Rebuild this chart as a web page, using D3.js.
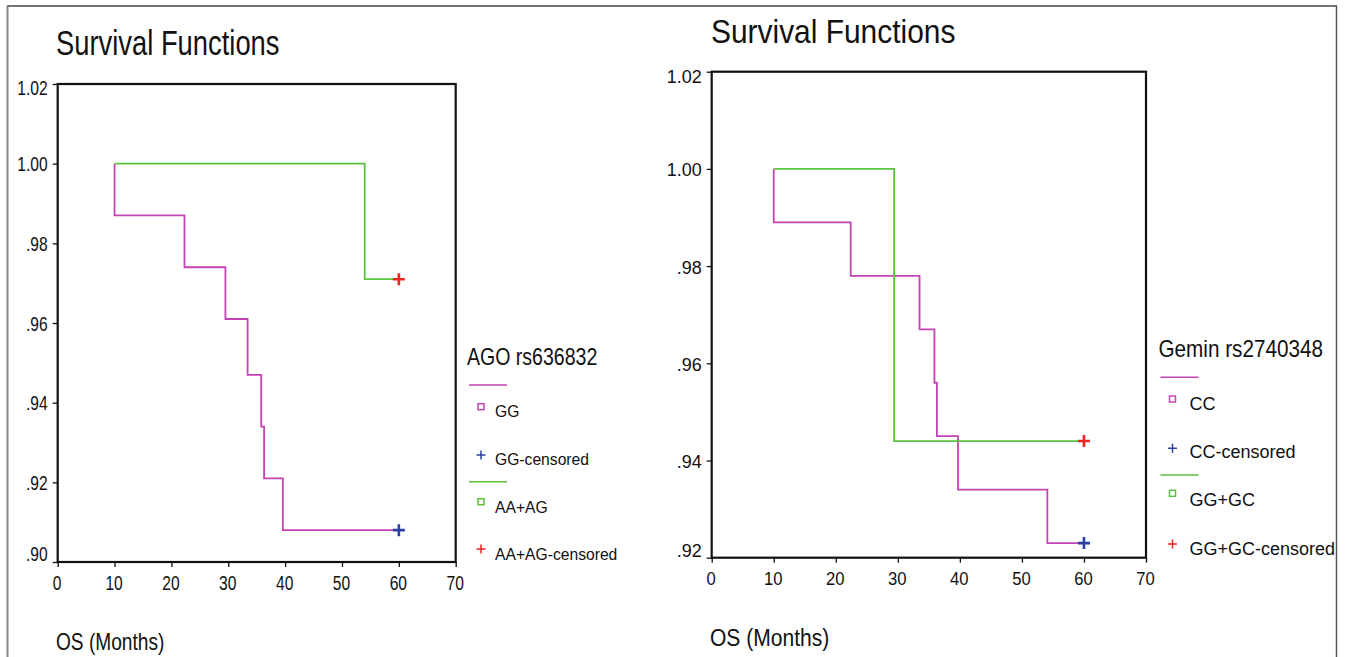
<!DOCTYPE html>
<html>
<head>
<meta charset="utf-8">
<script src="https://cdn.jsdelivr.net/npm/d3@7"></script>
<style>
  body { margin: 0; background: #fff; }
  svg { display: block; font-family: "Liberation Sans", Arial, sans-serif; }
</style>
</head>
<body>
<svg id="chart" width="1347" height="657"></svg>
<script>
// ---- data ----
const xTicks = [0, 10, 20, 30, 40, 50, 60, 70];
const leftYTicks = [0.90, 0.92, 0.94, 0.96, 0.98, 1.00, 1.02];
const rightYTicks = [0.92, 0.94, 0.96, 0.98, 1.00, 1.02];

// left panel: AGO rs636832
const leftLegendTitle = "AGO rs636832";
const leftGroups = ["GG", "AA+AG"];
const ggEventTimes = [10, 22.3, 29.5, 33.4, 35.8, 36.3, 39.6];
const ggSurvival = [0.987, 0.974, 0.961, 0.947, 0.934, 0.921, 0.908];
const aaagEventTimes = [54];
const aaagSurvival = [0.971];
const leftStart = 10, leftCensor = 60;

// right panel: Gemin rs2740348
const rightLegendTitle = "Gemin rs2740348";
const rightGroups = ["CC", "GG+GC"];
const ccEventTimes = [10, 22.4, 33.5, 35.9, 36.3, 39.7, 54.1];
const ccSurvival = [0.989, 0.978, 0.967, 0.956, 0.945, 0.934, 0.923];
const gggcEventTimes = [29.4];
const gggcSurvival = [0.944];
const rightStart = 10, rightCensor = 60;

const MAGENTA = "#c443b5", GREEN = "#5bc13e", BLUE = "#2c40a8", RED = "#f02420";

const svg = d3.select("#chart");

// outer frame of the figure
svg.append("line").attr("x1", 7).attr("x2", 1337).attr("y1", 6).attr("y2", 6)
  .attr("stroke", "#444").attr("stroke-width", 1.5);
svg.append("line").attr("x1", 7.5).attr("x2", 7.5).attr("y1", 6).attr("y2", 657)
  .attr("stroke", "#888").attr("stroke-width", 2);
svg.append("line").attr("x1", 1336.5).attr("x2", 1336.5).attr("y1", 6).attr("y2", 657)
  .attr("stroke", "#555").attr("stroke-width", 1.5);

// narrow text like the SPSS output: scale horizontally
function label(g, x, y, str, size, sx, anchor) {
  return g.append("text")
    .attr("transform", `translate(${x},${y}) scale(${sx},1)`)
    .attr("font-size", size)
    .attr("text-anchor", anchor || "start")
    .attr("fill", "#111")
    .text(str);
}

function fmtY(d) {
  const s = d.toFixed(2);
  return d < 1 ? s.replace(/^0/, "") : s;
}

function stepPoints(start, times, surv, end) {
  const pts = [[start, 1]];
  times.forEach((t, i) => pts.push([t, surv[i]]));
  pts.push([end, surv[surv.length - 1]]);
  return pts;
}

function plus(g, cx, cy, h, color, w) {
  g.append("path")
    .attr("d", `M${cx - h},${cy}H${cx + h}M${cx},${cy - h}V${cy + h}`)
    .attr("stroke", color).attr("stroke-width", w).attr("fill", "none");
}

function panel(cfg) {
  const g = svg.append("g");
  const x = d3.scaleLinear().domain([0, 70]).range([cfg.left, cfg.right]);
  const y = d3.scaleLinear().domain(cfg.yDomain).range([cfg.bottom, cfg.top]);

  label(g, cfg.titleX, cfg.titleY, "Survival Functions", cfg.titleSize, cfg.titleSx);

  // y axis
  const nY = cfg.yTicks.length;
  g.append("g")
    .attr("transform", `translate(${cfg.left},0)`)
    .call(d3.axisLeft(y).tickValues(cfg.yTicks).tickSize(5).tickSizeOuter(0).tickFormat(fmtY))
    .call(a => a.select(".domain").remove())
    .call(a => a.selectAll("line").attr("stroke", "#111").attr("stroke-width", 1.3))
    .call(a => a.selectAll("text")
      .attr("x", 0).attr("dy", null)
      .attr("font-size", cfg.tickSize).attr("fill", "#111")
      .attr("font-family", "Liberation Sans, Arial, sans-serif")
      .attr("transform", (d, i) => {
        const off = i === 0 ? -1.5 : (i === nY - 1 ? 10.5 : 7);
        return `translate(-10,${off}) scale(${cfg.yTickSx},1)`;
      }));

  // x axis
  g.append("g")
    .attr("transform", `translate(0,${cfg.bottom})`)
    .call(d3.axisBottom(x).tickValues(cfg.xTicks).tickSize(5).tickSizeOuter(0).tickFormat(d3.format("d")))
    .call(a => a.select(".domain").remove())
    .call(a => a.selectAll("line").attr("stroke", "#111").attr("stroke-width", 1.3))
    .call(a => a.selectAll("text")
      .attr("y", 0).attr("dy", null)
      .attr("font-size", cfg.tickSize).attr("fill", "#111")
      .attr("font-family", "Liberation Sans, Arial, sans-serif")
      .attr("transform", `translate(-1,${cfg.xLabelOff}) scale(${cfg.xTickSx},1)`));

  label(g, cfg.xTitleX, cfg.xTitleY, "OS (Months)", cfg.xTitleSize, cfg.xTitleSx);

  // curves
  const line = d3.line().x(d => x(d[0])).y(d => y(d[1])).curve(d3.curveStepAfter);
  cfg.series.forEach(s => {
    g.append("path")
      .attr("d", line(s.points))
      .attr("fill", "none").attr("stroke", s.color).attr("stroke-width", 1.8);
  });
  cfg.series.forEach(s => {
    const last = s.points[s.points.length - 1];
    plus(g, x(last[0]), y(last[1]), 6, s.censorColor, 2.6);
  });

  // plot frame
  g.append("rect")
    .attr("x", cfg.left).attr("y", cfg.top)
    .attr("width", cfg.right - cfg.left).attr("height", cfg.bottom - cfg.top)
    .attr("fill", "none").attr("stroke", "#111").attr("stroke-width", 2.2);

  // legend
  const L = cfg.legend;
  label(g, L.x, L.titleY, L.title, L.titleSize, L.titleSx);
  cfg.series.forEach((s, i) => {
    const base = L.rowY[i];
    g.append("line")
      .attr("x1", L.x + 2).attr("x2", L.x + 40)
      .attr("y1", base.line).attr("y2", base.line)
      .attr("stroke", s.color).attr("stroke-width", 1.6);
    g.append("rect")
      .attr("x", L.x + 11).attr("y", base.sq - 3)
      .attr("width", 6).attr("height", 6)
      .attr("fill", "none").attr("stroke", s.color).attr("stroke-width", 1.5);
    label(g, L.x + L.textDx, base.sqText, s.name, L.size, L.sx);
    plus(g, L.x + 14, base.plus, 4.5, s.censorColor, 1.5);
    label(g, L.x + L.textDx, base.plusText, s.name + "-censored", L.size, L.sx);
  });
}

panel({
  left: 57.7, right: 455.7, top: 84, bottom: 562,
  yDomain: [0.90, 1.02], yTicks: leftYTicks, xTicks: xTicks,
  titleX: 56, titleY: 55, titleSize: 36, titleSx: 0.76,
  tickSize: 19.5, yTickSx: 0.8, xTickSx: 0.8, xLabelOff: 28,
  xTitleX: 56, xTitleY: 650, xTitleSize: 24.5, xTitleSx: 0.78,
  series: [
    { name: leftGroups[0], color: MAGENTA, censorColor: BLUE,
      points: stepPoints(leftStart, ggEventTimes, ggSurvival, leftCensor) },
    { name: leftGroups[1], color: GREEN, censorColor: RED,
      points: stepPoints(leftStart, aaagEventTimes, aaagSurvival, leftCensor) }
  ],
  legend: {
    x: 467, title: leftLegendTitle, titleY: 365, titleSize: 23, titleSx: 0.85,
    size: 16.5, sx: 0.95, textDx: 28,
    rowY: [
      { line: 385, sq: 406.7, sqText: 417, plus: 455, plusText: 465 },
      { line: 481.7, sq: 501.7, sqText: 513, plus: 549, plusText: 560 }
    ]
  }
});

panel({
  left: 711.7, right: 1146, top: 71.7, bottom: 557.7,
  yDomain: [0.92, 1.02], yTicks: rightYTicks, xTicks: xTicks,
  titleX: 711, titleY: 42.7, titleSize: 34, titleSx: 0.88,
  tickSize: 18.5, yTickSx: 0.97, xTickSx: 0.9, xLabelOff: 27,
  xTitleX: 710, xTitleY: 646, xTitleSize: 24.5, xTitleSx: 0.86,
  series: [
    { name: rightGroups[0], color: MAGENTA, censorColor: BLUE,
      points: stepPoints(rightStart, ccEventTimes, ccSurvival, rightCensor) },
    { name: rightGroups[1], color: GREEN, censorColor: RED,
      points: stepPoints(rightStart, gggcEventTimes, gggcSurvival, rightCensor) }
  ],
  legend: {
    x: 1158.5, title: rightLegendTitle, titleY: 356.7, titleSize: 23, titleSx: 0.9,
    size: 18, sx: 1, textDx: 31,
    rowY: [
      { line: 377.3, sq: 399, sqText: 410, plus: 448.3, plusText: 458.3 },
      { line: 475, sq: 493.3, sqText: 505.7, plus: 544, plusText: 555 }
    ]
  }
});
</script>
</body>
</html>
